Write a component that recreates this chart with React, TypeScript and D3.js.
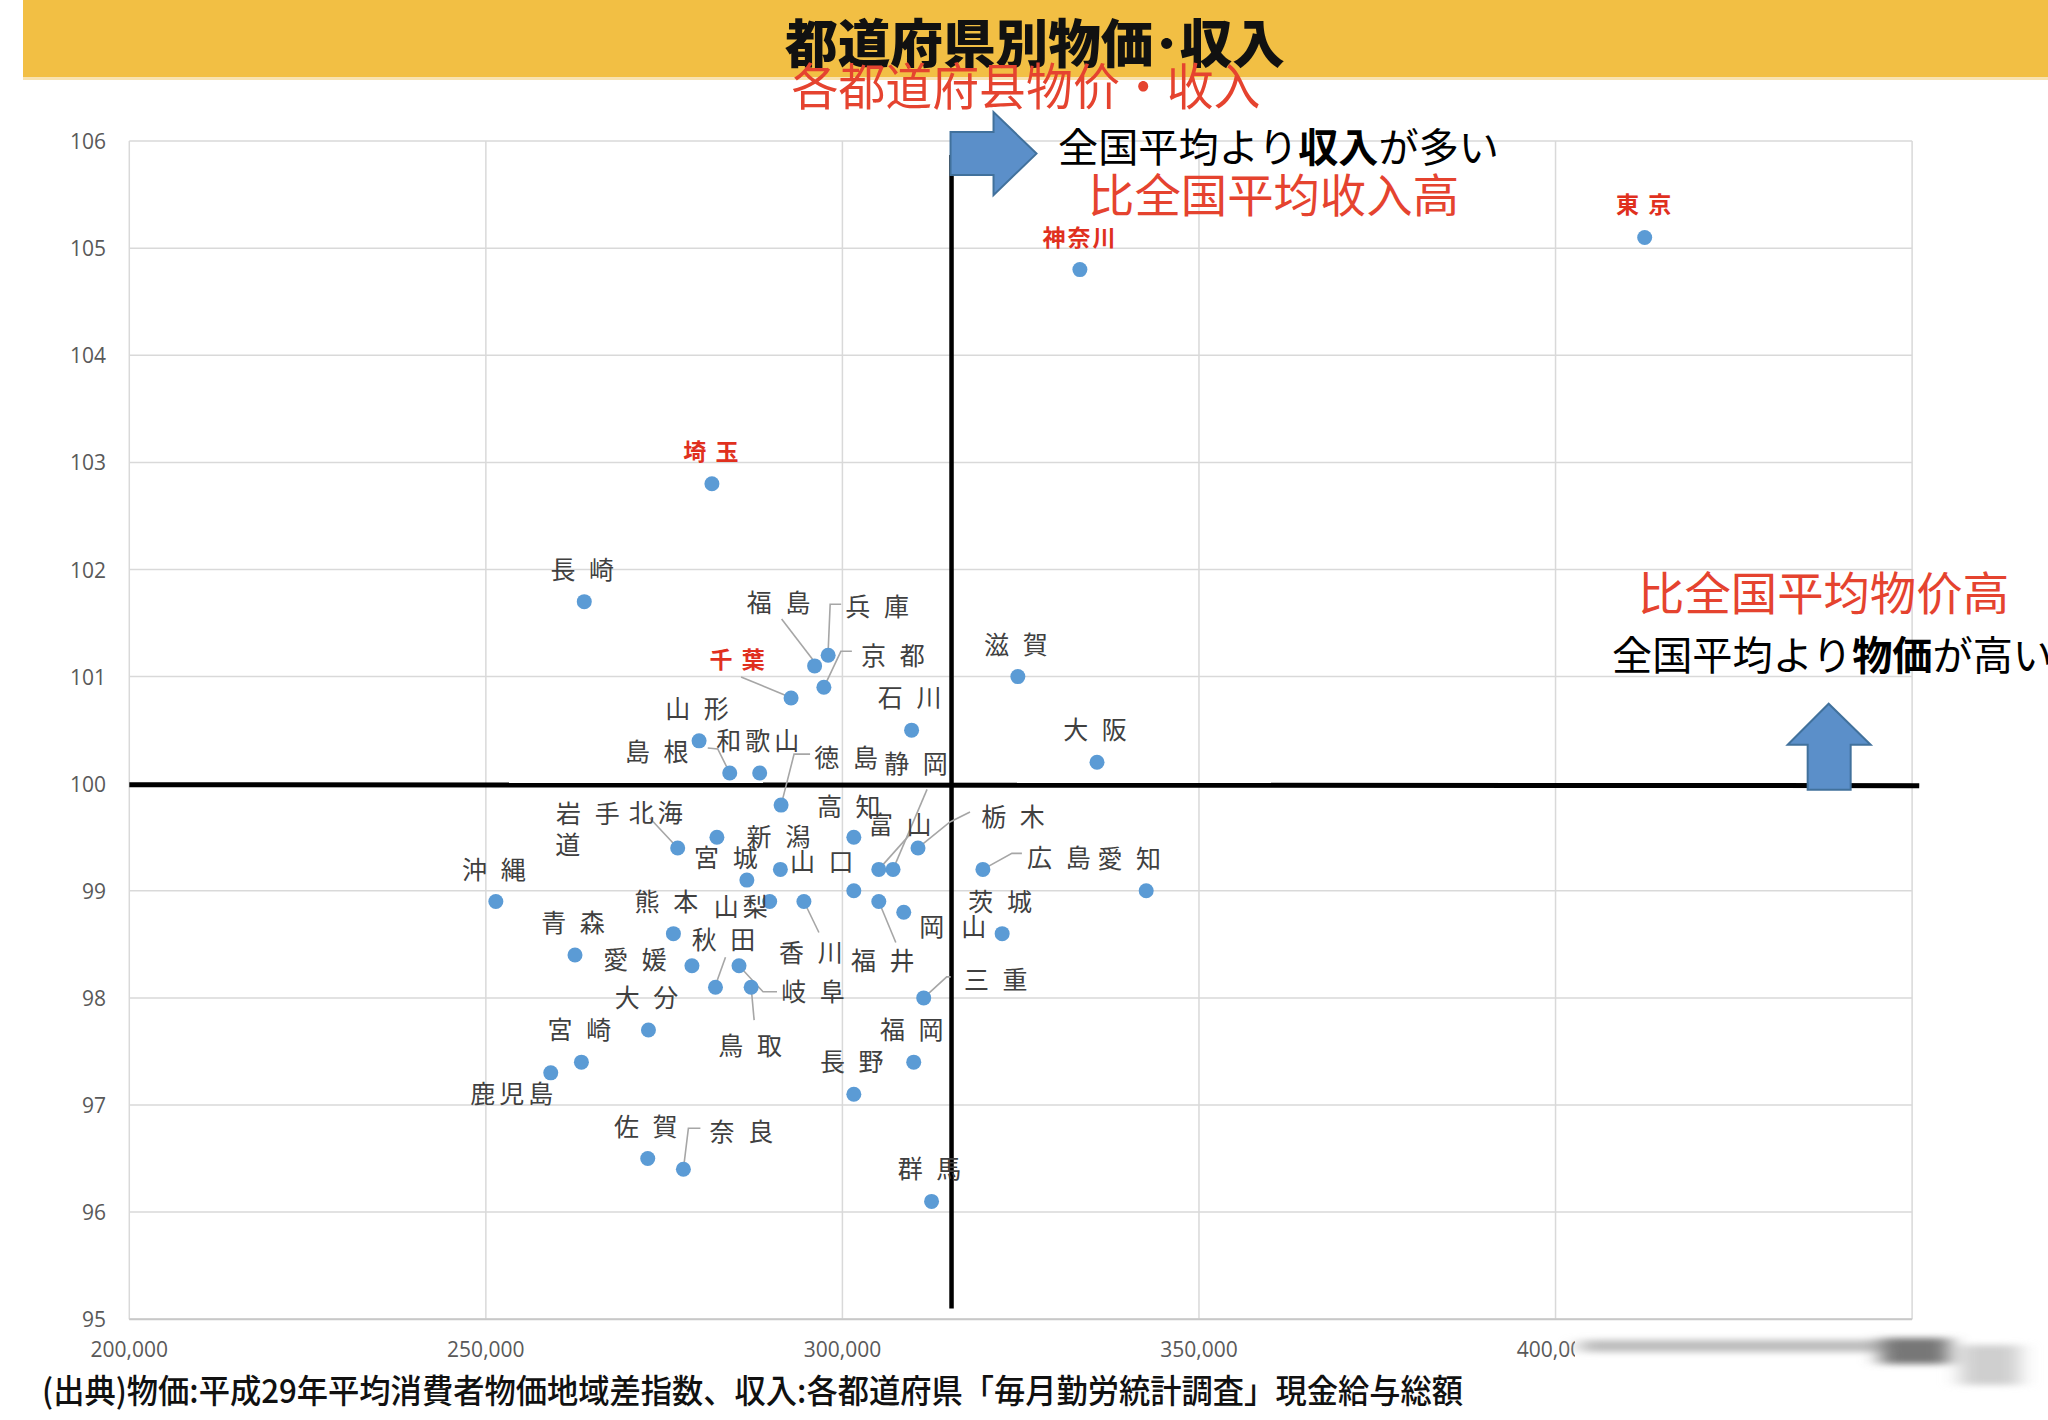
import * as d3 from 'd3';

// 都道府県別 物価指数 × 現金給与総額 (読み取り値)
const prefectures = [
  '東京', '神奈川', '埼玉', '長崎', '福島', '兵庫', '京都', '千葉', '滋賀', '石川',
  '大阪', '山形', '島根', '和歌山', '徳島', '静岡', '富山', '高知', '岩手', '北海道',
  '新潟', '宮城', '山口', '栃木', '広島', '愛知', '沖縄', '青森', '熊本', '山梨',
  '香川', '福井', '岡山', '茨城', '愛媛', '秋田', '岐阜', '鳥取', '三重', '大分',
  '宮崎', '鹿児島', '福岡', '長野', '佐賀', '奈良', '群馬',
];
const income = [
  412500, 333300, 281700, 263800, 296100, 298000, 297400, 292800, 324600, 309700,
  335700, 279900, 284200, 288400, 291400, 307100, 305100, 301600, 282400, 276900,
  291300, 286600, 301600, 310600, 319700, 342600, 251400, 262500, 276300, 289800,
  294600, 305100, 308600, 322400, 278900, 282200, 285500, 287200, 311400, 272800,
  263400, 259100, 310000, 301600, 272700, 277700, 312500,
];
const priceIndex = [
  105.1, 104.8, 102.8, 101.7, 101.1, 101.2, 100.9, 100.8, 101.0, 100.5,
  100.2, 100.4, 100.1, 100.1, 99.8, 99.2, 99.2, 99.5, 99.5, 99.4,
  99.2, 99.1, 99.0, 99.4, 99.2, 99.0, 98.9, 98.4, 98.6, 98.9,
  98.9, 98.9, 98.8, 98.6, 98.3, 98.1, 98.3, 98.1, 98.0, 97.7,
  97.4, 97.3, 97.4, 97.1, 96.5, 96.4, 96.1,
];
const highlighted = ['東京', '神奈川', '埼玉', '千葉'];

const xTickValues = [200000, 250000, 300000, 350000, 400000, 450000];
const yTickValues = [95, 96, 97, 98, 99, 100, 101, 102, 103, 104, 105, 106];

// 全国平均 (十字線)
const avgIncome = 315300;
const avgPrice = 100;
const upArrowIncome = 438300;

const title = '都道府県別物価･収入';
const subtitleZh = '各都道府县物价・收入';
const noteIncomeJa = ['全国平均より', '収入', 'が多い'];
const noteIncomeZh = '比全国平均收入高';
const notePriceZh = '比全国平均物价高';
const notePriceJa = ['全国平均より', '物価', 'が高い'];
const source = '(出典)物価:平成29年平均消費者物価地域差指数、収入:各都道府県「毎月勤労統計調査」現金給与総額';

// label placement: text parts [text, dx, dy] from the point, optional leader polyline
type Layout = { parts?: [string, number, number][]; at?: [number, number]; leader?: [number, number][] };
const labelLayout: Record<string, Layout> = {
  福島: { at: [-34, -65], leader: [[0, -4], [-33, -47]] },
  兵庫: { at: [51, -50], leader: [[0, -4], [2, -51], [13, -51]] },
  京都: { at: [71, -33], leader: [[0, 0], [17, -36], [28, -36]] },
  千葉: { at: [-53, -40], leader: [[-4, -2], [-50, -21]] },
  島根: { at: [-71, -23], leader: [[0, 0], [-12, -24], [-22, -25]] },
  徳島: { at: [67, -49], leader: [[0, 0], [13, -51], [29, -51]] },
  静岡: { at: [25, -107], leader: [[0, 0], [34, -80]] },
  富山: { at: [23, -46], leader: [[0, 0], [33, -37]] },
  高知: { at: [-3, -32] },
  岩手: { at: [-127, -25] },
  北海道: { parts: [['北海', -20, -37], ['道', -108, -5]], leader: [[0, 0], [-28, -30]] },
  宮城: { at: [-19, -24] },
  山口: { at: [-30, -31] },
  栃木: { at: [97, -33], leader: [[0, 0], [32, -26], [52, -36]] },
  広島: { at: [78, -13], leader: [[0, 0], [29, -16], [39, -16]] },
  愛知: { at: [-15, -34] },
  熊本: { at: [-5, -34] },
  山梨: { parts: [['山梨', -27, 3]] },
  香川: { at: [9, 49], leader: [[0, 0], [15, 31]] },
  福井: { at: [6, 57], leader: [[0, 0], [17, 41]] },
  岡山: { parts: [['岡', 30, 13], ['山', 72, 13]] },
  愛媛: { at: [-55, -8] },
  秋田: { at: [10, -49], leader: [[0, -2], [10, -30]] },
  岐阜: { at: [76, 24], leader: [[0, 0], [24, 26], [38, 26]] },
  鳥取: { at: [1, 57], leader: [[0, 0], [3, 33]] },
  三重: { at: [74, -20], leader: [[0, 0], [23, -21], [27, -21]] },
  鹿児島: { at: [-37, 19] },
  奈良: { at: [60, -39], leader: [[0, 0], [5, -41], [17, -41]] },
};

const JP = '"Noto Sans CJK JP", "Noto Sans CJK SC", sans-serif';
const SC = '"Noto Sans CJK SC", "Noto Sans CJK JP", sans-serif';
const RED = '#e5432f';

function spaced(name: string) {
  return name.length === 2 ? `${name[0]} ${name[1]}` : name;
}

export default function App() {
  const W = 2048;
  const H = 1420;
  const x = d3.scaleLinear().domain([200000, 450000]).range([129.3, 1912.1]);
  const y = d3.scaleLinear().domain([95, 106]).range([1319.2, 141.1]);
  const fmt = d3.format(',');
  const line = d3.line();

  const ax = x(avgIncome);
  const ay = y(avgPrice);
  const top = y(106);

  // right-pointing arrow at the top of the vertical average line
  const rightArrow: [number, number][] = [
    [ax - 1, top - 9], [ax + 42, top - 9], [ax + 42, top - 29], [ax + 85, top + 12.5],
    [ax + 42, top + 54], [ax + 42, top + 34], [ax - 1, top + 34],
  ];
  const ux = x(upArrowIncome);
  const upArrow: [number, number][] = [
    [ux - 21, ay + 6], [ux - 21, ay - 39], [ux - 41, ay - 39], [ux, ay - 80],
    [ux + 42, ay - 39], [ux + 22, ay - 39], [ux + 22, ay + 6],
  ];

  const points = prefectures.map((name, i) => ({
    name,
    cx: x(income[i]),
    cy: y(priceIndex[i]),
    red: highlighted.includes(name),
  }));

  return (
    <div style={{ position: 'absolute', left: 0, top: 0 }}>
      <svg width={W} height={H} viewBox={`0 0 ${W} ${H}`} style={{ display: 'block', background: '#fff' }}>
        <defs>
          <filter id="smear" x="-10%" y="-50%" width="120%" height="200%">
            <feGaussianBlur stdDeviation="10 3" />
          </filter>
        </defs>

        {/* banner */}
        <rect x={23} y={0} width={W - 23} height={77} fill="#f2bf44" />
        <rect x={23} y={77} width={W - 23} height={3} fill="#f8e2b0" />
        <text x={1035} y={63} textAnchor="middle" fontFamily={JP} fontWeight={900} fontSize={52}
          textLength={500} lengthAdjust="spacingAndGlyphs" fill="#111">{title}</text>
        <text x={1026} y={105} textAnchor="middle" fontFamily={SC} fontSize={50}
          textLength={469} lengthAdjust="spacingAndGlyphs" fill={RED}>{subtitleZh}</text>

        {/* grid */}
        <g stroke="#d9d9d9" strokeWidth={1.5}>
          {yTickValues.map((v) => (
            <line key={`gy${v}`} x1={x(200000)} x2={x(450000)} y1={y(v)} y2={y(v)} />
          ))}
          {xTickValues.map((v) => (
            <line key={`gx${v}`} x1={x(v)} x2={x(v)} y1={y(95)} y2={y(106)} />
          ))}
        </g>
        <line x1={x(200000)} x2={x(450000)} y1={y(95)} y2={y(95)} stroke="#c8c8c8" strokeWidth={2} />

        {/* tick labels */}
        <g fontFamily='"Open Sans", "Noto Sans", sans-serif' fontSize={21} fill="#595959">
          {yTickValues.map((v) => (
            <text key={`ty${v}`} x={106} y={y(v)} textAnchor="end" dominantBaseline="central">{v}</text>
          ))}
          {xTickValues.map((v) => (
            <text key={`tx${v}`} x={x(v)} y={1349} textAnchor="middle" dominantBaseline="central">{fmt(v)}</text>
          ))}
        </g>

        {/* average cross */}
        <line x1={x(200000)} x2={x(451000)} y1={ay + 1} y2={ay + 2} stroke="#000" strokeWidth={5} />
        <line x1={ax} x2={ax} y1={y(105.87)} y2={y(95.1)} stroke="#000" strokeWidth={4.5} />

        {/* leaders */}
        <g stroke="#a6a6a6" strokeWidth={1.6} fill="none">
          {points.map((p) => {
            const lay = labelLayout[p.name];
            if (!lay || !lay.leader) return null;
            const pts = lay.leader.map(([dx, dy]) => [p.cx + dx, p.cy + dy] as [number, number]);
            return <path key={`l${p.name}`} d={line(pts) ?? ''} />;
          })}
        </g>

        {/* points */}
        <g fill="#5b9bd5">
          {points.map((p) => (
            <circle key={`c${p.name}`} cx={p.cx} cy={p.cy} r={7.5} />
          ))}
        </g>

        {/* point labels */}
        <g fontFamily={JP}>
          {points.map((p) => {
            const lay = labelLayout[p.name];
            const parts: [string, number, number][] = lay?.parts
              ? lay.parts
              : [[spaced(p.name), lay?.at ? lay.at[0] : 0, lay?.at ? lay.at[1] : -34]];
            return parts.map(([t, dx, dy], k) => (
              <text
                key={`t${p.name}${k}`}
                x={p.cx + dx}
                y={p.cy + dy}
                textAnchor="middle"
                dominantBaseline="central"
                fontSize={p.red ? 23 : 25}
                fontWeight={p.red ? 700 : 400}
                letterSpacing={p.red ? 2 : 4}
                fill={p.red ? '#e0301e' : '#404040'}
              >
                {t}
              </text>
            ));
          })}
        </g>

        {/* arrows */}
        <path d={(line(rightArrow) ?? '') + 'Z'} fill="#5b8fc9" stroke="#41719c" strokeWidth={2} />
        <path d={(line(upArrow) ?? '') + 'Z'} fill="#5b8fc9" stroke="#41719c" strokeWidth={2} />

        {/* annotations */}
        <text x={1058} y={162} fontFamily={JP} fontSize={40} fill="#000" textLength={441} lengthAdjust="spacingAndGlyphs">
          {noteIncomeJa[0]}<tspan fontWeight={700}>{noteIncomeJa[1]}</tspan>{noteIncomeJa[2]}
        </text>
        <text x={1088} y={212} fontFamily={SC} fontSize={46} fill={RED} textLength={371} lengthAdjust="spacingAndGlyphs">
          {noteIncomeZh}
        </text>
        <text x={1638} y={610} fontFamily={SC} fontSize={46} fill={RED} textLength={371} lengthAdjust="spacingAndGlyphs">
          {notePriceZh}
        </text>
        <text x={1612} y={670} fontFamily={JP} fontSize={40} fill="#000" textLength={441} lengthAdjust="spacingAndGlyphs">
          {notePriceJa[0]}<tspan fontWeight={700}>{notePriceJa[1]}</tspan>{notePriceJa[2]}
        </text>

        {/* smeared watermark over the lower-right corner */}
        <rect x={1575} y={1328} width={W - 1575} height={84} fill="#fff" />
        <g filter="url(#smear)">
          <rect x={1580} y={1340} width={330} height={12} fill="#bdbdbd" />
          <rect x={1880} y={1338} width={70} height={26} fill="#777" />
          <rect x={1960} y={1345} width={60} height={40} fill="#cfcfcf" />
        </g>

        {/* source */}
        <text x={42} y={1403} fontFamily={JP} fontSize={33} fontWeight={500} fill="#111"
          textLength={1421} lengthAdjust="spacingAndGlyphs">{source}</text>
      </svg>
    </div>
  );
}
